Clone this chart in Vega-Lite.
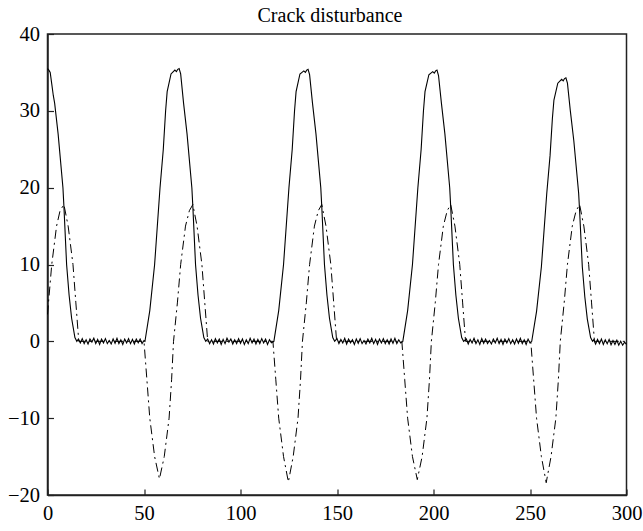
{
  "$schema": "https://vega.github.io/schema/vega-lite/v6.json",
  "autosize": {"type": "none"},
  "padding": {"left": 47.5, "top": 34, "right": 16, "bottom": 36},
  "width": 579,
  "height": 461,
  "title": {"text": "Crack disturbance"},
  "config": {
    "font": "Liberation Serif",
    "style": {"guide-label": {"font": "Liberation Serif", "fontSize": 20.5, "fill": "#000"}},
    "title": {"font": "Liberation Serif", "fontSize": 20, "fontWeight": "normal", "color": "#000", "offset": -2, "baseline": "alphabetic", "dx": -7},
    "view": {"stroke": "#222", "strokeWidth": 1.5},
    "axis": {"grid": false, "domainColor": "#222", "domainWidth": 1.5, "tickColor": "#222", "tickWidth": 1.2, "tickSize": -6, "labelFont": "Liberation Serif", "labelFontSize": 20.5, "labelColor": "#000", "labelFlush": false, "title": null}
  },
  "datasets": {
    "solid": [
      {"x":0,"y":35.5},{"x":0.7,"y":35.3},{"x":1.4,"y":35.0},{"x":2.2,"y":33.5},{"x":3,"y":32},{"x":3.7,"y":31},{"x":5.5,"y":27},{"x":8,"y":20},{"x":8.5,"y":17.6},{"x":9.9,"y":10},{"x":11.2,"y":6},{"x":12.5,"y":3},{"x":14.2,"y":0.5},{"x":15.2,"y":0},
      {"x":16,"y":0.3},{"x":17,"y":-0.2},{"x":18,"y":0.35},{"x":19,"y":-0.3},{"x":20,"y":0.2},{"x":21,"y":-0.35},{"x":22,"y":0.3},{"x":23,"y":-0.1},{"x":24,"y":0.4},{"x":25,"y":-0.3},{"x":26,"y":0.25},{"x":27,"y":-0.4},{"x":28,"y":0.3},{"x":29,"y":-0.2},{"x":30,"y":0.35},{"x":31,"y":-0.3},{"x":32,"y":0.1},{"x":33,"y":-0.35},{"x":34,"y":0.3},{"x":35,"y":-0.25},{"x":36,"y":0.4},{"x":37,"y":-0.3},{"x":38,"y":0.2},{"x":39,"y":-0.4},{"x":40,"y":0.3},{"x":41,"y":-0.2},{"x":42,"y":0.35},{"x":43,"y":-0.3},{"x":44,"y":0.25},{"x":45,"y":-0.35},{"x":46,"y":0.3},{"x":47,"y":-0.2},{"x":48,"y":0.3},{"x":49,"y":-0.3},{"x":50,"y":0.1},
      {"x":50.5,"y":0},{"x":53,"y":4},{"x":55.5,"y":10},{"x":58.3,"y":20},{"x":60,"y":25},{"x":61.2,"y":30},{"x":62,"y":32.5},{"x":64,"y":34.8},{"x":66,"y":35.3},{"x":66.8,"y":35.1},{"x":67.5,"y":35.4},{"x":68.2,"y":35.5},{"x":69,"y":34.8},{"x":70.5,"y":31},{"x":72.3,"y":27},{"x":74.8,"y":20},{"x":75.3,"y":17.6},{"x":76.7,"y":10},{"x":78,"y":6},{"x":79.3,"y":3},{"x":81,"y":0.5},{"x":82,"y":0},
      {"x":83,"y":0.3},{"x":84,"y":-0.3},{"x":85,"y":0.2},{"x":86,"y":-0.35},{"x":87,"y":0.35},{"x":88,"y":-0.2},{"x":89,"y":0.3},{"x":90,"y":-0.4},{"x":91,"y":0.25},{"x":92,"y":-0.3},{"x":93,"y":0.4},{"x":94,"y":-0.1},{"x":95,"y":0.3},{"x":96,"y":-0.35},{"x":97,"y":0.2},{"x":98,"y":-0.3},{"x":99,"y":0.35},{"x":100,"y":-0.25},{"x":101,"y":0.3},{"x":102,"y":-0.4},{"x":103,"y":0.2},{"x":104,"y":-0.3},{"x":105,"y":0.4},{"x":106,"y":-0.2},{"x":107,"y":0.3},{"x":108,"y":-0.35},{"x":109,"y":0.25},{"x":110,"y":-0.3},{"x":111,"y":0.35},{"x":112,"y":-0.2},{"x":113,"y":0.3},{"x":114,"y":-0.4},{"x":115,"y":0.2},{"x":116,"y":-0.2},
      {"x":117.3,"y":0},{"x":119.8,"y":4},{"x":122.3,"y":10},{"x":125.1,"y":20},{"x":126.8,"y":25},{"x":128,"y":30},{"x":128.8,"y":32.5},{"x":130.8,"y":34.8},{"x":132.8,"y":35.2},{"x":133.6,"y":35.0},{"x":134.3,"y":35.3},{"x":135,"y":35.4},{"x":135.8,"y":34.7},{"x":137.3,"y":31},{"x":139.1,"y":27},{"x":141.6,"y":20},{"x":142.1,"y":17.6},{"x":143.5,"y":10},{"x":144.8,"y":6},{"x":146.1,"y":3},{"x":147.8,"y":0.5},{"x":148.8,"y":0},
      {"x":150,"y":0.35},{"x":151,"y":-0.3},{"x":152,"y":0.25},{"x":153,"y":-0.2},{"x":154,"y":0.4},{"x":155,"y":-0.35},{"x":156,"y":0.3},{"x":157,"y":-0.2},{"x":158,"y":0.2},{"x":159,"y":-0.4},{"x":160,"y":0.3},{"x":161,"y":-0.25},{"x":162,"y":0.35},{"x":163,"y":-0.3},{"x":164,"y":0.1},{"x":165,"y":-0.35},{"x":166,"y":0.3},{"x":167,"y":-0.2},{"x":168,"y":0.4},{"x":169,"y":-0.3},{"x":170,"y":0.25},{"x":171,"y":-0.4},{"x":172,"y":0.3},{"x":173,"y":-0.2},{"x":174,"y":0.35},{"x":175,"y":-0.3},{"x":176,"y":0.2},{"x":177,"y":-0.35},{"x":178,"y":0.3},{"x":179,"y":-0.25},{"x":180,"y":0.4},{"x":181,"y":-0.3},{"x":182,"y":0.2},{"x":183,"y":-0.2},
      {"x":184.1,"y":0},{"x":186.6,"y":4},{"x":189.1,"y":10},{"x":191.9,"y":20},{"x":193.6,"y":25},{"x":194.8,"y":30},{"x":195.6,"y":32.5},{"x":197.6,"y":34.7},{"x":199.6,"y":35.1},{"x":200.4,"y":34.9},{"x":201.1,"y":35.2},{"x":201.8,"y":35.3},{"x":202.6,"y":34.6},{"x":204.1,"y":31},{"x":205.9,"y":27},{"x":208.4,"y":20},{"x":208.9,"y":17.6},{"x":210.3,"y":10},{"x":211.6,"y":6},{"x":212.9,"y":3},{"x":214.6,"y":0.5},{"x":215.6,"y":0},
      {"x":217,"y":0.3},{"x":218,"y":-0.35},{"x":219,"y":0.25},{"x":220,"y":-0.2},{"x":221,"y":0.4},{"x":222,"y":-0.3},{"x":223,"y":0.2},{"x":224,"y":-0.4},{"x":225,"y":0.35},{"x":226,"y":-0.25},{"x":227,"y":0.3},{"x":228,"y":-0.3},{"x":229,"y":0.1},{"x":230,"y":-0.35},{"x":231,"y":0.3},{"x":232,"y":-0.2},{"x":233,"y":0.4},{"x":234,"y":-0.3},{"x":235,"y":0.25},{"x":236,"y":-0.4},{"x":237,"y":0.3},{"x":238,"y":-0.2},{"x":239,"y":0.35},{"x":240,"y":-0.3},{"x":241,"y":0.2},{"x":242,"y":-0.35},{"x":243,"y":0.3},{"x":244,"y":-0.25},{"x":245,"y":0.4},{"x":246,"y":-0.3},{"x":247,"y":0.2},{"x":248,"y":-0.4},{"x":249,"y":0.3},{"x":250,"y":-0.2},
      {"x":250.9,"y":0},{"x":253.4,"y":3.9},{"x":255.9,"y":9.7},{"x":258.7,"y":19.3},{"x":260.4,"y":24.2},{"x":261.6,"y":29},{"x":262.4,"y":31.4},{"x":264.4,"y":33.6},{"x":266.4,"y":34.1},{"x":267.2,"y":33.9},{"x":267.9,"y":34.2},{"x":268.6,"y":34.3},{"x":269.4,"y":33.6},{"x":270.9,"y":30},{"x":272.7,"y":26.1},{"x":275.2,"y":19.3},{"x":275.7,"y":17.0},{"x":277.1,"y":9.7},{"x":278.4,"y":5.8},{"x":279.7,"y":2.9},{"x":281.4,"y":0.5},{"x":282.4,"y":0},
      {"x":283,"y":0.2},{"x":284,"y":-0.35},{"x":285,"y":0.25},{"x":286,"y":-0.3},{"x":287,"y":0.3},{"x":288,"y":-0.4},{"x":289,"y":0.2},{"x":290,"y":-0.3},{"x":291,"y":0.25},{"x":292,"y":-0.45},{"x":293,"y":0.1},{"x":294,"y":-0.4},{"x":295,"y":0.15},{"x":296,"y":-0.5},{"x":297,"y":0.0},{"x":298,"y":-0.5},{"x":299,"y":-0.1},{"x":300,"y":-0.4}
    ],
    "dash": [
      {"x":0,"y":3.5},{"x":0.5,"y":5},{"x":2.2,"y":10},{"x":4.7,"y":15},{"x":6.5,"y":17},{"x":8.5,"y":17.8},{"x":10.7,"y":15},{"x":13.2,"y":10},{"x":14.7,"y":5},{"x":16.2,"y":0},
      {"x":50,"y":0},{"x":51.5,"y":-5},{"x":53,"y":-10},{"x":55.5,"y":-15},{"x":58,"y":-17.9},{"x":60.5,"y":-15},{"x":63,"y":-10},{"x":64.3,"y":-5},{"x":65.3,"y":0},{"x":67.3,"y":5},{"x":69,"y":10},{"x":71.5,"y":15},{"x":73.5,"y":17},{"x":75.3,"y":17.8},{"x":77.5,"y":15},{"x":80,"y":10},{"x":81.5,"y":5},{"x":83,"y":0},
      {"x":116.8,"y":0},{"x":118.3,"y":-5},{"x":119.8,"y":-10},{"x":122.3,"y":-15},{"x":124.8,"y":-18.3},{"x":127.3,"y":-15},{"x":129.8,"y":-10},{"x":131.1,"y":-5},{"x":132.1,"y":0},{"x":134.1,"y":5},{"x":135.8,"y":10},{"x":138.3,"y":15},{"x":140.3,"y":17},{"x":142.1,"y":17.8},{"x":144.3,"y":15},{"x":146.8,"y":10},{"x":148.3,"y":5},{"x":149.8,"y":0},
      {"x":183.6,"y":0},{"x":185.1,"y":-5},{"x":186.6,"y":-10},{"x":189.1,"y":-15},{"x":191.6,"y":-18},{"x":194.1,"y":-15},{"x":196.6,"y":-10},{"x":197.9,"y":-5},{"x":198.9,"y":0},{"x":200.9,"y":5},{"x":202.6,"y":10},{"x":205.1,"y":15},{"x":207.1,"y":17},{"x":208.9,"y":17.8},{"x":211.1,"y":15},{"x":213.6,"y":10},{"x":215.1,"y":5},{"x":216.6,"y":0},
      {"x":250.4,"y":0},{"x":251.9,"y":-5},{"x":253.4,"y":-10},{"x":255.9,"y":-15},{"x":258.4,"y":-18.4},{"x":260.9,"y":-15},{"x":263.4,"y":-10},{"x":264.7,"y":-5},{"x":265.7,"y":0},{"x":267.7,"y":5},{"x":269.4,"y":10},{"x":271.9,"y":15},{"x":273.9,"y":17},{"x":275.7,"y":17.8},{"x":277.9,"y":15},{"x":280.4,"y":10},{"x":281.9,"y":5},{"x":283.4,"y":0},{"x":300,"y":0}
    ]
  },
  "layer": [
    {
      "data": {"name": "dash"},
      "mark": {"type": "line", "color": "#000", "strokeWidth": 1, "strokeDash": [9, 4, 2, 4]},
      "encoding": {
        "x": {"field": "x", "type": "quantitative", "scale": {"domain": [0, 300], "nice": false, "zero": false}, "axis": {"values": [0, 50, 100, 150, 200, 250, 300], "labelPadding": 14, "labelFont": "Liberation Serif", "labelFontSize": 20.5, "labelFlush": false}},
        "y": {"field": "y", "type": "quantitative", "scale": {"domain": [-20, 40], "nice": false, "zero": false}, "axis": {"values": [-20, -10, 0, 10, 20, 30, 40], "labelPadding": 14, "labelFont": "Liberation Serif", "labelFontSize": 20.5, "labelFlush": false}},
        "order": {"field": "x", "type": "quantitative"}
      }
    },
    {
      "data": {"name": "solid"},
      "mark": {"type": "line", "color": "#000", "strokeWidth": 1.1},
      "encoding": {
        "x": {"field": "x", "type": "quantitative"},
        "y": {"field": "y", "type": "quantitative"},
        "order": {"field": "x", "type": "quantitative"}
      }
    }
  ]
}
